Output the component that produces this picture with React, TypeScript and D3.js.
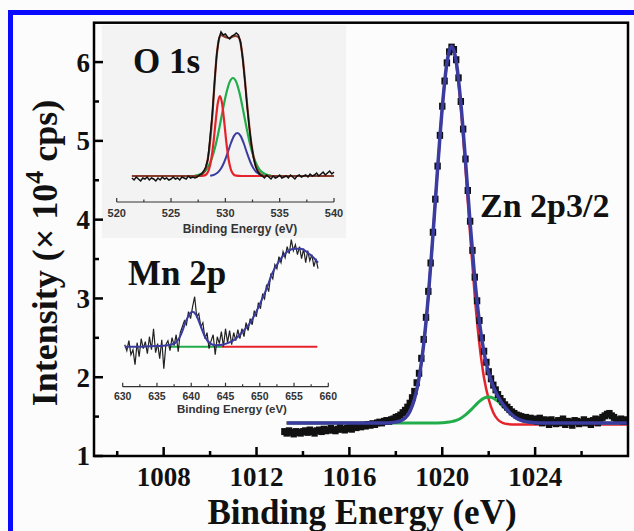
import React from "react";
import * as d3 from "d3";

// ---------- main panel : Zn 2p3/2 ----------
const znStart = 1013.2;
const znStep = 0.1;
const znData = [
  1.31, 1.29, 1.32, 1.30, 1.28, 1.31, 1.30, 1.29,
  1.31, 1.32, 1.30, 1.33, 1.31, 1.29, 1.32, 1.33, 1.31, 1.34,
  1.32, 1.33, 1.35, 1.33, 1.32, 1.34, 1.36, 1.34, 1.33, 1.35,
  1.36, 1.34, 1.37, 1.36, 1.38, 1.37, 1.39, 1.38, 1.40, 1.39,
  1.41, 1.40, 1.42, 1.43, 1.42, 1.44, 1.45, 1.44, 1.46, 1.47,
  1.49, 1.50, 1.52, 1.55, 1.58, 1.62, 1.67, 1.74, 1.82, 1.93,
  2.05, 2.24, 2.48, 2.76, 3.09, 3.45, 3.84, 4.26, 4.68, 5.07,
  5.44, 5.76, 5.99, 6.13, 6.19, 6.16, 6.03, 5.80, 5.50, 5.15,
  4.77, 4.37, 3.98, 3.61, 3.27, 2.97, 2.72, 2.50, 2.33, 2.19,
  2.07, 1.98, 1.90, 1.84, 1.78, 1.73, 1.69, 1.65, 1.62, 1.59,
  1.56, 1.54, 1.52, 1.51, 1.50, 1.48, 1.49, 1.47, 1.48, 1.46,
  1.47, 1.44, 1.48, 1.42, 1.46, 1.45, 1.40, 1.46, 1.43, 1.41,
  1.45, 1.42, 1.47, 1.40, 1.44, 1.43, 1.39, 1.45, 1.44, 1.41,
  1.43, 1.46, 1.42, 1.44, 1.40, 1.45, 1.47, 1.42, 1.46, 1.49,
  1.51, 1.53, 1.54, 1.51, 1.49, 1.46, 1.45, 1.47, 1.44, 1.46,
];

// total fit (blue)
const znEnvelope: [number, number][] = [
  [1013.3, 1.42], [1016.0, 1.42], [1017.6, 1.42], [1017.8, 1.423], [1018.0, 1.43],
  [1018.2, 1.446], [1018.4, 1.482], [1018.6, 1.563], [1018.8, 1.72], [1019.0, 1.99],
  [1019.2, 2.42], [1019.4, 3.03], [1019.6, 3.81], [1019.8, 4.65], [1020.0, 5.42],
  [1020.2, 5.99], [1020.4, 6.2], [1020.6, 6.01], [1020.8, 5.48], [1021.0, 4.75],
  [1021.2, 3.96], [1021.4, 3.25], [1021.6, 2.7], [1021.8, 2.31], [1022.0, 2.05],
  [1022.2, 1.88], [1022.4, 1.755], [1022.6, 1.66], [1022.8, 1.585], [1023.0, 1.524],
  [1023.2, 1.48], [1023.4, 1.452], [1023.6, 1.436], [1023.8, 1.427], [1024.0, 1.423],
  [1024.4, 1.42], [1028.0, 1.42],
];

// main component (red)
const znMainPeak: [number, number][] = [
  [1013.3, 1.42], [1017.6, 1.42], [1017.8, 1.423], [1018.0, 1.43], [1018.2, 1.446],
  [1018.4, 1.482], [1018.6, 1.563], [1018.8, 1.72], [1019.0, 1.99], [1019.2, 2.42],
  [1019.4, 3.03], [1019.6, 3.81], [1019.8, 4.65], [1020.0, 5.42], [1020.2, 5.98],
  [1020.4, 6.18], [1020.6, 5.98], [1020.8, 5.42], [1021.0, 4.65], [1021.2, 3.81],
  [1021.4, 3.03], [1021.6, 2.42], [1021.8, 1.99], [1022.0, 1.72], [1022.2, 1.55],
  [1022.4, 1.46], [1022.6, 1.42], [1022.8, 1.405], [1023.2, 1.40], [1028.0, 1.40],
];

// shoulder component (green)
const znShoulder: [number, number][] = [
  [1013.3, 1.42], [1019.6, 1.42], [1020.0, 1.423], [1020.2, 1.427], [1020.4, 1.436],
  [1020.6, 1.452], [1020.8, 1.48], [1021.0, 1.521], [1021.2, 1.575], [1021.4, 1.635],
  [1021.6, 1.693], [1021.8, 1.735], [1022.0, 1.75], [1022.2, 1.735], [1022.4, 1.693],
  [1022.6, 1.635], [1022.8, 1.575], [1023.0, 1.521], [1023.2, 1.48], [1023.4, 1.452],
  [1023.6, 1.436], [1023.8, 1.427], [1024.0, 1.423], [1024.4, 1.42], [1028.0, 1.42],
];

const xMajor = [1008, 1012, 1016, 1020, 1024];
const xMinor = [1006, 1010, 1014, 1018, 1022, 1026];
const yMajor = [1, 2, 3, 4, 5, 6];
const yMinor = [1.5, 2.5, 3.5, 4.5, 5.5];

// ---------- inset : O 1s ----------
const oStart = 521.4;
const oStep = 0.2;
const oData = [
  -2, -4, -1, -3, -5, -2, -3, -1, -4, -2,
  -3, -5, -2, -4, -1, -3, -2, -4, -3, -1,
  -3, -2, -4, -1, -2, -3, 0, -2, -1, -2,
  -1, 1, 2, 5, 9, 17, 40, 62, 93, 121,
  137, 144, 141, 142, 139, 137, 140, 141, 143, 141,
  134, 117, 95, 70, 49, 31, 18, 9, 4, 1,
  0, -2, 1, -1, -3, 0, -2, -1, 1, -2,
  -1, 0, -2, 1, -1, -3, 0, 1, -1, 0,
  1, -1, 2, 0, 1, 3, 0, 2, 4, 1,
  3, 5, 2, 4,
];
const oEnvelope: [number, number][] = [
  [521.4, 0], [527.5, 0], [527.9, 2], [528.2, 8], [528.5, 25], [528.8, 60],
  [529.0, 92], [529.2, 120], [529.4, 136], [529.6, 141], [529.8, 140], [530.0, 139],
  [530.3, 138], [530.6, 139], [530.9, 140], [531.2, 139], [531.4, 133], [531.6, 118],
  [531.8, 96], [532.0, 72], [532.2, 50], [532.4, 32], [532.6, 19], [532.8, 10],
  [533.0, 5], [533.3, 1.5], [533.6, 0], [540.0, 0],
];
const oPeakRed: [number, number][] = [
  [521.4, 0], [527.6, 0], [528.0, 0.3], [528.3, 2.3], [528.5, 6.8], [528.7, 16.5],
  [528.9, 32.9], [529.1, 53.9], [529.3, 72.5], [529.5, 80], [529.7, 72.5], [529.9, 53.9],
  [530.1, 32.9], [530.3, 16.5], [530.5, 6.8], [530.7, 2.3], [531.0, 0.3], [531.5, 0],
  [540.0, 0],
];
const oPeakGreen: [number, number][] = [
  [527.2, 0.4], [527.7, 1.7], [528.0, 3.6], [528.3, 7.2], [528.6, 13.3], [528.9, 22.5],
  [529.2, 35.3], [529.5, 51], [529.8, 67.9], [530.1, 83.2], [530.4, 94.1], [530.7, 98],
  [531.0, 94.1], [531.3, 83.2], [531.6, 67.9], [531.9, 51], [532.2, 35.3], [532.5, 22.5],
  [532.8, 13.3], [533.1, 7.2], [533.4, 3.6], [533.7, 1.7], [534.2, 0.4],
];
const oPeakBlue: [number, number][] = [
  [528.6, 0.3], [529.0, 1.4], [529.3, 3.4], [529.6, 7.4], [529.9, 14], [530.2, 22.8],
  [530.5, 32.5], [530.8, 40.1], [531.1, 43], [531.4, 40.1], [531.7, 32.5], [532.0, 22.8],
  [532.3, 14], [532.6, 7.4], [532.9, 3.4], [533.2, 1.4], [533.6, 0.3],
];
const oTicks = [520, 525, 530, 535, 540];
const oMinor = [522.5, 527.5, 532.5, 537.5];

// ---------- inset : Mn 2p ----------
const mnStart = 630.3;
const mnStep = 0.3;
const mnData = [
  2, -4, 6, -8, -3, -18, 4, -10, 8, -2,
  5, -7, 10, -3, 18, -6, 3, -12, 7, -22,
  2, 6, -4, 9, 1, 12, -5, 14, 20, 26,
  22, 35, 28, 40, 50, 30, 33, 20, 24, 8,
  14, -2, 6, 12, -8, 10, 3, 15, 0, 18,
  4, 16, 2, 14, 6, 17, 8, 18, 10, 24,
  16, 28, 22, 36, 30, 44, 38, 52, 48, 62,
  55, 72, 68, 82, 78, 90, 84, 95, 89, 100,
  93, 107, 96, 102, 92, 100, 88, 98, 84, 96,
  86, 92, 80, 88, 78,
];
const mnFit: [number, number][] = [
  [630.3, 0], [632, 0], [634, 0.5], [636, 1], [637.5, 3], [638.5, 12], [639.2, 25],
  [639.8, 33], [640.2, 35], [640.7, 32], [641.3, 22], [642, 10], [642.8, 3],
  [643.5, 1.5], [644.5, 2], [645.5, 4], [646.5, 8], [647.5, 15], [648.5, 23],
  [649.5, 35], [650.3, 47], [651, 58], [651.8, 73], [652.5, 82], [653.3, 90],
  [654, 95], [655, 98], [656, 98], [657, 94], [658, 88], [658.5, 84],
];
const mnBgGreen: [number, number][] = [[636.7, 0], [644.6, 0]];
const mnBgRed: [number, number][] = [[644.5, 0], [658.4, 0]];
const mnTicks = [630, 635, 640, 645, 650, 655, 660];
const mnMinor = [632.5, 637.5, 642.5, 647.5, 652.5, 657.5];

const SERIF = "'Liberation Serif', 'Times New Roman', serif";
const SANS = "'Liberation Sans', Arial, sans-serif";

const RED = "#e5232b";
const GREEN = "#22ad4a";
const NAVY = "#3b3ca0";

type Pt = [number, number];

export default function App() {
  // main scales
  const x = d3.scaleLinear().domain([1005, 1028]).range([94, 628]);
  const y = d3.scaleLinear().domain([1, 6.5]).range([456, 22.7]);
  const fitLine = d3.line<Pt>().x(d => x(d[0])).y(d => y(d[1])).curve(d3.curveMonotoneX);
  const znPts: Pt[] = znData.map((v, i) => [znStart + i * znStep, v]);

  // O 1s inset scales
  const xo = d3.scaleLinear().domain([520, 540]).range([116.7, 334]);
  const yo = d3.scaleLinear().domain([0, 150]).range([176, 26]);
  const oLine = d3.line<Pt>().x(d => xo(d[0])).y(d => yo(d[1])).curve(d3.curveMonotoneX);
  const oRaw = d3.line<Pt>().x(d => xo(d[0])).y(d => yo(d[1]));
  const oPts: Pt[] = oData.map((v, i) => [oStart + i * oStep, v]);

  // Mn 2p inset scales
  const xm = d3.scaleLinear().domain([630, 660]).range([122.7, 328.3]);
  const ym = d3.scaleLinear().domain([0, 110]).range([346.7, 236.7]);
  const mLine = d3.line<Pt>().x(d => xm(d[0])).y(d => ym(d[1])).curve(d3.curveMonotoneX);
  const mRaw = d3.line<Pt>().x(d => xm(d[0])).y(d => ym(d[1]));
  const mnPts: Pt[] = mnData.map((v, i) => [mnStart + i * mnStep, v]);

  const [x0, x1] = x.range();
  const [yb, yt] = y.range();
  const oAxisY = 202;
  const mAxisY = 386.7;

  return (
    <svg width={634} height={531} style={{ position: "absolute", left: 0, top: 0, background: "#fcfcfc" }}>
      {/* blue outer border */}
      <rect x={8} y={10} width={626} height={5} fill="#0a0aff" />
      <rect x={8} y={10} width={5} height={521} fill="#0a0aff" />

      {/* O 1s inset background */}
      <rect x={102} y={25} width={244} height={213} fill="#f3f3f3" />

      {/* ---- main data ---- */}
      <path d={fitLine(znMainPeak) || ""} fill="none" stroke={RED} strokeWidth={2.5} />
      <path d={fitLine(znShoulder) || ""} fill="none" stroke={GREEN} strokeWidth={3} />
      <g fill="#111">
        {znPts.map((d, i) => (
          <rect key={i} x={x(d[0]) - 3.2} y={y(d[1]) - 3.5} width={6.4} height={7} />
        ))}
      </g>
      <path d={fitLine(znEnvelope) || ""} fill="none" stroke={NAVY} strokeWidth={3.5} />

      {/* ---- main frame & ticks ---- */}
      <rect x={x0} y={yt} width={x1 - x0} height={yb - yt} fill="none" stroke="#000" strokeWidth={2.5} />
      <g stroke="#000" strokeWidth={2.5}>
        {xMajor.map(t => <line key={"xM" + t} x1={x(t)} x2={x(t)} y1={yb} y2={yb - 9} />)}
        {xMinor.map(t => <line key={"xm" + t} x1={x(t)} x2={x(t)} y1={yb} y2={yb - 5} />)}
        {yMajor.map(t => <line key={"yM" + t} x1={x0} x2={x0 + 9} y1={y(t)} y2={y(t)} />)}
        {yMinor.map(t => <line key={"ym" + t} x1={x0} x2={x0 + 5} y1={y(t)} y2={y(t)} />)}
      </g>
      <g fontFamily={SERIF} fontWeight="bold" fontSize={27} fill="#111">
        {xMajor.map(t => (
          <text key={"xl" + t} x={x(t)} y={486} textAnchor="middle">{t}</text>
        ))}
        {yMajor.map(t => (
          <text key={"yl" + t} x={90} y={y(t)} dy="0.35em" textAnchor="end">{t}</text>
        ))}
      </g>
      <text x={362} y={524} textAnchor="middle" fontFamily={SERIF} fontWeight="bold" fontSize={35} fill="#111">
        Binding Energy (eV)
      </text>
      <text transform="translate(57,253) rotate(-90)" textAnchor="middle" fontFamily={SERIF}
        fontWeight="bold" fontSize={36} fill="#111">
        Intensity (× 10<tspan fontSize={26} dy={-14}>4</tspan><tspan dy={14}> cps)</tspan>
      </text>
      <text x={480} y={217} fontFamily={SERIF} fontWeight="bold" fontSize={34} fill="#111">Zn 2p3/2</text>

      {/* ---- O 1s inset ---- */}
      <path d={oLine(oPeakBlue) || ""} fill="none" stroke={NAVY} strokeWidth={2} />
      <path d={oLine(oPeakGreen) || ""} fill="none" stroke={GREEN} strokeWidth={2.2} />
      <path d={oLine(oPeakRed) || ""} fill="none" stroke={RED} strokeWidth={2.2} />
      <path d={oLine(oEnvelope) || ""} fill="none" stroke="#8a3a2a" strokeWidth={2.2} />
      <path d={oRaw(oPts) || ""} fill="none" stroke="#111" strokeWidth={1.5} />
      <g stroke="#333" strokeWidth={1.2}>
        <line x1={xo(520)} x2={xo(540)} y1={oAxisY} y2={oAxisY} />
        {oTicks.map(t => <line key={"ot" + t} x1={xo(t)} x2={xo(t)} y1={oAxisY} y2={oAxisY - 4} />)}
        {oMinor.map(t => <line key={"om" + t} x1={xo(t)} x2={xo(t)} y1={oAxisY} y2={oAxisY - 2.5} />)}
      </g>
      <g fontFamily={SANS} fontWeight="bold" fontSize={11} fill="#333">
        {oTicks.map(t => (
          <text key={"ol" + t} x={xo(t)} y={217} textAnchor="middle">{t}</text>
        ))}
        <text x={240} y={233} textAnchor="middle" fontSize={12}>Binding Energy (eV)</text>
      </g>
      <text x={133} y={73} fontFamily={SERIF} fontWeight="bold" fontSize={35} fill="#111">O 1s</text>

      {/* ---- Mn 2p inset ---- */}
      <path d={mLine(mnBgGreen) || ""} fill="none" stroke={GREEN} strokeWidth={2} />
      <path d={mLine(mnBgRed) || ""} fill="none" stroke={RED} strokeWidth={2} />
      <path d={mRaw(mnPts) || ""} fill="none" stroke="#222" strokeWidth={1.2} />
      <path d={mLine(mnFit) || ""} fill="none" stroke={NAVY} strokeWidth={2} />
      <g stroke="#333" strokeWidth={1.2}>
        <line x1={xm(630)} x2={xm(660)} y1={mAxisY} y2={mAxisY} />
        {mnTicks.map(t => <line key={"mt" + t} x1={xm(t)} x2={xm(t)} y1={mAxisY} y2={mAxisY - 4} />)}
        {mnMinor.map(t => <line key={"mm" + t} x1={xm(t)} x2={xm(t)} y1={mAxisY} y2={mAxisY - 2.5} />)}
      </g>
      <g fontFamily={SANS} fontWeight="bold" fontSize={10.5} fill="#333">
        {mnTicks.map(t => (
          <text key={"ml" + t} x={xm(t)} y={400} textAnchor="middle">{t}</text>
        ))}
        <text x={232} y={413} textAnchor="middle" fontSize={11.5}>Binding Energy (eV)</text>
      </g>
      <text x={128} y={285} fontFamily={SERIF} fontWeight="bold" fontSize={35} fill="#111">Mn 2p</text>
    </svg>
  );
}
